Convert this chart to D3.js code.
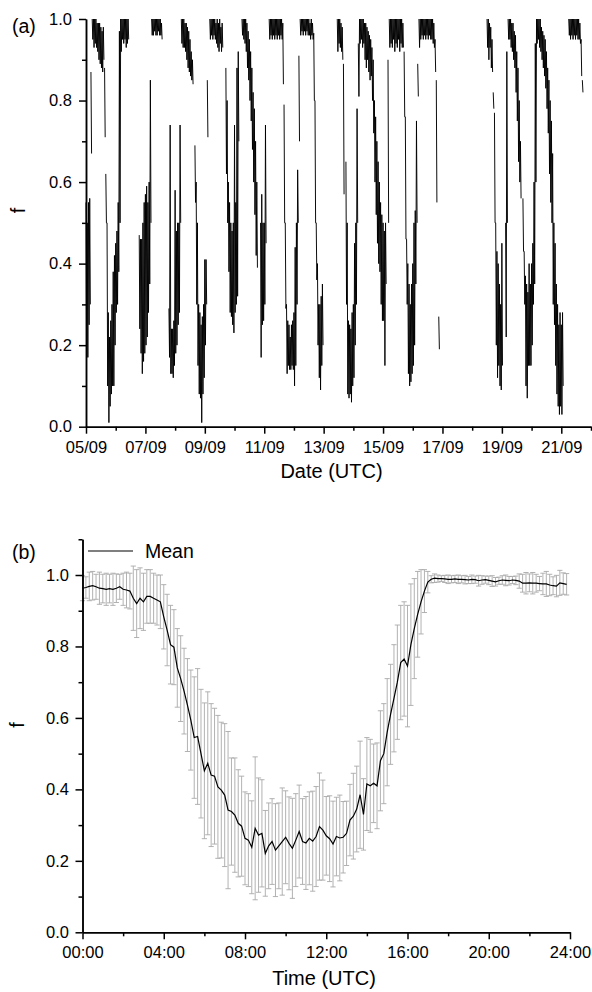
<!DOCTYPE html>
<html>
<head>
<meta charset="utf-8">
<script src="https://cdn.jsdelivr.net/npm/d3@7"></script>
<style>
  body { margin: 0; background: #fff; }
  svg { display: block; font-family: "Liberation Sans", Arial, sans-serif; }
</style>
</head>
<body>
<svg id="chart"></svg>
<script>
const _ = null;

// (a) hourly envelope of f, from 05/09 00:00 UTC, one row per day
const startDate = Date.UTC(2016, 8, 5);
const endDate = Date.UTC(2016, 8, 22);
const fLow = [
  0.20,0.17,0.25,0.30,0.67,0.95,0.93,0.94,0.93,0.92,0.90,0.89,0.88,0.87,0.90,0.71,0.50,0.10,0.01,0.05,0.08,0.10,0.10,0.20,
  0.28,0.30,0.38,0.50,0.92,0.95,0.94,0.95,0.93,0.94,0.95,_,_,_,_,_,_,_,_,0.24,0.18,0.13,0.16,0.18,
  0.20,0.22,0.28,0.35,0.50,0.96,0.96,0.97,0.96,0.96,0.97,0.96,0.96,0.95,_,_,_,_,_,0.17,0.13,0.13,0.12,0.15,
  0.18,0.20,0.25,0.28,0.50,0.94,0.93,0.93,0.92,0.90,0.88,0.87,0.86,0.85,0.84,_,0.55,0.30,0.15,0.08,0.07,0.01,0.08,0.12,
  0.20,0.30,0.71,_,0.95,0.96,0.95,0.96,0.95,0.94,0.93,0.92,0.94,0.92,0.93,_,_,0.62,0.50,0.38,0.28,0.27,0.25,0.23,
  0.28,0.30,0.32,0.70,_,_,0.96,0.95,0.94,0.92,0.88,0.85,0.80,0.75,0.68,0.60,0.52,0.42,0.39,_,_,0.17,0.25,0.26,
  0.30,0.45,_,_,0.95,0.96,0.95,0.96,0.95,0.96,0.95,0.96,0.95,0.96,0.95,0.84,0.50,0.29,0.13,0.15,0.14,0.14,0.15,0.14,
  0.10,0.15,0.30,0.50,0.70,0.96,0.97,0.96,0.97,0.96,0.97,0.96,0.96,0.95,0.96,0.95,0.80,0.50,0.36,0.20,0.12,0.09,0.15,0.20,
  _,_,_,_,_,_,_,_,_,_,_,0.92,0.94,0.93,0.92,0.90,0.57,_,0.30,0.08,0.07,0.08,0.06,0.10,
  0.12,0.20,0.30,0.50,0.81,0.94,0.95,0.93,0.94,0.90,0.88,0.90,0.87,0.85,0.86,0.80,0.72,0.60,0.52,0.45,0.40,0.38,0.30,0.26,
  0.26,0.15,0.35,_,0.50,0.93,0.94,0.93,0.95,0.92,0.94,0.93,0.95,0.92,0.94,0.93,0.93,0.76,0.46,0.30,0.13,0.10,0.11,0.13,
  0.15,0.20,0.35,0.50,0.81,0.93,0.95,0.96,0.95,0.96,0.95,0.96,0.95,0.96,0.95,0.95,0.94,0.93,0.87,0.55,_,0.19,_,_,
  _,_,_,_,_,_,_,_,_,_,_,_,_,_,_,_,_,_,_,_,_,_,_,_,
  _,_,_,_,_,_,_,_,_,_,_,_,0.93,0.90,0.93,0.88,0.87,0.78,0.50,0.20,0.12,0.15,0.10,0.09,
  0.15,_,_,0.22,0.50,0.95,0.95,0.93,0.92,0.90,0.88,0.82,0.75,0.65,0.60,0.56,_,0.43,0.30,0.10,0.07,0.15,0.15,0.15,
  0.20,0.30,0.35,0.60,0.94,0.95,0.93,0.92,0.90,0.88,0.86,0.83,0.78,0.72,0.62,0.55,0.50,0.30,0.25,0.15,0.08,0.05,0.03,0.05,
  0.03,0.10,_,_,_,_,0.96,0.95,0.96,0.95,0.96,0.95,0.96,0.95,0.95,0.94,0.86,0.82,_,_,_,_,_,_
];
const fHigh = [
  0.55,0.50,0.55,0.56,0.87,1.00,1.00,1.00,1.00,0.99,0.99,0.99,0.98,0.97,0.98,0.88,0.62,0.50,0.28,0.22,0.26,0.30,0.38,0.42,
  0.45,0.48,0.55,0.97,1.00,1.00,1.00,1.00,1.00,1.00,1.00,_,_,_,_,_,_,_,_,0.47,0.46,0.46,0.50,0.55,
  0.57,0.59,0.55,0.60,0.85,1.00,1.00,1.00,1.00,1.00,1.00,1.00,1.00,0.99,_,_,_,_,_,0.29,0.74,0.24,0.24,0.26,
  0.58,0.48,0.50,0.50,0.74,1.00,1.00,1.00,0.99,0.99,0.98,0.97,0.95,0.92,0.90,_,0.69,0.60,0.50,0.30,0.28,0.25,0.27,0.30,
  0.41,0.41,0.85,_,1.00,1.00,1.00,1.00,1.00,0.99,1.00,0.99,1.00,0.98,0.99,_,_,0.88,0.80,0.60,0.55,0.50,0.48,0.50,
  0.74,0.55,0.88,0.92,_,_,1.00,1.00,1.00,1.00,0.99,0.97,0.95,0.92,0.88,0.82,0.78,0.70,0.60,_,_,0.50,0.57,0.50,
  0.50,0.74,_,_,1.00,1.00,1.00,1.00,1.00,1.00,1.00,1.00,1.00,1.00,1.00,0.99,0.79,0.50,0.30,0.26,0.25,0.22,0.25,0.26,
  0.28,0.44,0.50,0.63,0.91,1.00,1.00,1.00,1.00,1.00,1.00,1.00,1.00,0.99,1.00,0.99,0.965,0.80,0.50,0.40,0.30,0.30,0.32,0.35,
  _,_,_,_,_,_,_,_,_,_,_,1.00,1.00,1.00,0.99,0.98,0.89,_,0.65,0.50,0.26,0.25,0.24,0.28,
  0.30,0.45,0.50,0.78,0.94,1.00,1.00,1.00,1.00,0.99,0.99,0.98,0.97,0.96,0.95,0.93,0.90,0.80,0.76,0.70,0.65,0.60,0.55,0.52,
  0.50,0.48,0.50,_,0.90,1.00,1.00,1.00,1.00,1.00,1.00,1.00,1.00,1.00,1.00,1.00,0.99,0.92,0.76,0.46,0.40,0.35,0.30,0.35,
  0.40,0.50,0.53,0.75,0.89,1.00,1.00,1.00,1.00,1.00,1.00,1.00,1.00,1.00,1.00,1.00,1.00,0.99,0.95,0.85,_,0.27,_,_,
  _,_,_,_,_,_,_,_,_,_,_,_,_,_,_,_,_,_,_,_,_,_,_,_,
  _,_,_,_,_,_,_,_,_,_,_,_,1.00,1.00,0.99,0.98,0.95,0.82,0.77,0.50,0.43,0.40,0.35,0.30,
  0.45,_,_,0.50,0.92,1.00,1.00,1.00,0.99,0.99,0.97,0.96,0.92,0.88,0.80,0.70,_,0.56,0.43,0.37,0.35,0.33,0.40,0.35,
  0.40,0.45,0.60,0.94,1.00,1.00,1.00,1.00,0.98,0.97,0.96,0.95,0.92,0.88,0.85,0.80,0.75,0.67,0.50,0.45,0.35,0.30,0.25,0.28,
  0.25,0.28,_,_,_,_,1.00,1.00,1.00,1.00,1.00,1.00,1.00,1.00,1.00,0.99,0.95,0.85,_,_,_,_,_,_
];

// (b) 10-minute mean of f and its standard deviation, 00:00 to 23:50 UTC
const meanF = [
  0.963,0.965,0.968,0.970,0.967,0.963,0.962,0.960,0.962,0.960,0.963,0.967,
  0.960,0.958,0.955,0.935,0.920,0.935,0.925,0.940,0.940,0.935,0.930,0.925,
  0.883,0.846,0.805,0.798,0.740,0.710,0.675,0.636,0.594,0.545,0.548,0.500,
  0.452,0.473,0.440,0.437,0.407,0.398,0.384,0.342,0.338,0.328,0.305,0.297,
  0.263,0.258,0.238,0.291,0.272,0.277,0.221,0.242,0.254,0.230,0.242,0.254,
  0.266,0.249,0.235,0.258,0.282,0.254,0.250,0.263,0.255,0.268,0.296,0.286,
  0.270,0.262,0.247,0.268,0.264,0.266,0.277,0.314,0.325,0.345,0.385,0.330,
  0.415,0.410,0.417,0.410,0.480,0.500,0.560,0.610,0.655,0.700,0.755,0.765,
  0.745,0.805,0.850,0.890,0.925,0.955,0.980,0.988,0.991,0.990,0.990,0.989,
  0.988,0.988,0.989,0.988,0.988,0.987,0.986,0.988,0.987,0.984,0.986,0.987,
  0.985,0.983,0.981,0.984,0.986,0.985,0.984,0.986,0.985,0.983,0.977,0.977,
  0.978,0.977,0.977,0.976,0.975,0.975,0.972,0.970,0.969,0.978,0.976,0.974
];
const sdF = [
  0.035,0.030,0.040,0.040,0.035,0.045,0.040,0.045,0.040,0.045,0.040,0.035,
  0.045,0.050,0.050,0.090,0.095,0.085,0.080,0.075,0.075,0.070,0.070,0.075,
  0.090,0.100,0.110,0.105,0.110,0.120,0.120,0.130,0.140,0.170,0.190,0.180,
  0.190,0.200,0.200,0.190,0.200,0.190,0.200,0.220,0.150,0.160,0.150,0.140,
  0.130,0.130,0.130,0.200,0.160,0.150,0.120,0.120,0.120,0.130,0.120,0.150,
  0.130,0.130,0.140,0.130,0.130,0.120,0.130,0.130,0.140,0.140,0.150,0.140,
  0.110,0.120,0.120,0.110,0.120,0.100,0.090,0.100,0.120,0.120,0.150,0.100,
  0.130,0.130,0.110,0.120,0.140,0.140,0.150,0.140,0.150,0.160,0.160,0.160,
  0.170,0.170,0.140,0.120,0.090,0.060,0.030,0.010,0.012,0.010,0.008,0.010,
  0.012,0.010,0.010,0.012,0.010,0.012,0.010,0.012,0.010,0.015,0.012,0.010,
  0.012,0.015,0.012,0.010,0.012,0.015,0.012,0.010,0.012,0.020,0.025,0.030,
  0.025,0.030,0.025,0.020,0.030,0.035,0.030,0.025,0.030,0.035,0.030,0.030
];

const yTicks = [0, 0.2, 0.4, 0.6, 0.8, 1.0];
const hourTicks = [0, 4, 8, 12, 16, 20, 24];

const W = 592, H = 992;
const FONT = '"Liberation Sans", Arial, sans-serif';
const svg = d3.select("#chart").attr("width", W).attr("height", H);
svg.append("rect").attr("width", W).attr("height", H).attr("fill", "#fff");

function styleAxis(g, fs) {
  g.attr("font-family", FONT).attr("font-size", fs);
  g.select(".domain").attr("stroke", "#000").attr("stroke-width", 1.5);
  g.selectAll(".tick line").attr("stroke", "#000").attr("stroke-width", 1.5);
  g.selectAll(".tick text").attr("fill", "#000");
}

// ---------- panel (a) ----------
const xA = d3.scaleUtc().domain([new Date(startDate), new Date(endDate)]).range([86, 591]);
const yA = d3.scaleLinear().domain([0, 1]).range([426.7, 19]);

// zigzag through each hour's high and low; break where consecutive hours don't touch
const ptsA = [];
fHigh.forEach((hi, i) => {
  const t0 = startDate + i * 3600e3;
  if (hi == null) { ptsA.push({ t: t0, v: null }); return; }
  const pLo = fLow[i - 1], pHi = fHigh[i - 1];
  if (pHi != null && (fLow[i] > pHi || hi < pLo)) ptsA.push({ t: t0, v: null });
  ptsA.push({ t: t0, v: hi }, { t: t0 + 1800e3, v: fLow[i] });
});

const lineA = d3.line()
  .defined(d => d.v != null)
  .x(d => xA(new Date(d.t)))
  .y(d => yA(d.v));

svg.append("path")
  .datum(ptsA)
  .attr("d", lineA)
  .attr("fill", "none")
  .attr("stroke", "#000")
  .attr("stroke-width", 0.95);

const dayMajor = d3.range(0, 17, 2).map(d => new Date(startDate + d * 864e5));
const dayMinor = d3.range(1, 18, 2).map(d => new Date(startDate + d * 864e5));

svg.append("g").attr("transform", "translate(0,426.7)")
  .call(d3.axisBottom(xA).tickValues(dayMinor).tickSize(4).tickFormat("").tickSizeOuter(0))
  .call(g => styleAxis(g, 16.5));
svg.append("g").attr("transform", "translate(0,426.7)")
  .call(d3.axisBottom(xA).tickValues(dayMajor).tickSize(7).tickPadding(7.6)
    .tickFormat(d3.utcFormat("%d/%m")).tickSizeOuter(0))
  .call(g => styleAxis(g, 16.5));

svg.append("g").attr("transform", "translate(86,0)")
  .call(d3.axisLeft(yA).tickValues([0.1, 0.3, 0.5, 0.7, 0.9]).tickSize(4).tickFormat("").tickSizeOuter(0))
  .call(g => styleAxis(g, 16.5));
svg.append("g").attr("transform", "translate(86,0)")
  .call(d3.axisLeft(yA).tickValues(yTicks).tickSize(7).tickPadding(7)
    .tickFormat(d3.format(".1f")).tickSizeOuter(0))
  .call(g => styleAxis(g, 16.5));

svg.append("text").attr("x", 12).attr("y", 33).attr("font-family", FONT)
  .attr("font-size", 19.5).text("(a)");
svg.append("text").attr("x", 331.5).attr("y", 478).attr("text-anchor", "middle")
  .attr("font-family", FONT).attr("font-size", 20).text("Date (UTC)");
svg.append("text").attr("transform", "translate(25,210.5) rotate(-90)")
  .attr("text-anchor", "middle").attr("font-family", FONT).attr("font-size", 20).text("f");

// ---------- panel (b) ----------
const xB = d3.scaleLinear().domain([0, 24]).range([82.5, 570]);
const yB = d3.scaleLinear().domain([0, 1.1]).range([932.3, 932.3 - 1.1 * 357.3]);
const hoursB = meanF.map((m, i) => i / 6);

const bars = svg.append("g").attr("stroke", "#a9a9a9").attr("stroke-width", 0.9);
meanF.forEach((m, i) => {
  const x = xB(hoursB[i]);
  const y1 = yB(m - sdF[i]), y2 = yB(m + sdF[i]);
  bars.append("line").attr("x1", x).attr("x2", x).attr("y1", y1).attr("y2", y2);
  bars.append("line").attr("x1", x - 2.6).attr("x2", x + 2.6).attr("y1", y1).attr("y2", y1);
  bars.append("line").attr("x1", x - 2.6).attr("x2", x + 2.6).attr("y1", y2).attr("y2", y2);
});

svg.append("path")
  .datum(meanF)
  .attr("d", d3.line().x((d, i) => xB(hoursB[i])).y(d => yB(d)))
  .attr("fill", "none")
  .attr("stroke", "#000")
  .attr("stroke-width", 1.2);

svg.append("g").attr("transform", "translate(0,932.3)")
  .call(d3.axisBottom(xB).tickValues([2, 6, 10, 14, 18, 22]).tickSize(4).tickFormat("").tickSizeOuter(0))
  .call(g => styleAxis(g, 16.5));
svg.append("g").attr("transform", "translate(0,932.3)")
  .call(d3.axisBottom(xB).tickValues(hourTicks).tickSize(7).tickPadding(7)
    .tickFormat(d => String(d).padStart(2, "0") + ":00").tickSizeOuter(0))
  .call(g => styleAxis(g, 16.5));

svg.append("g").attr("transform", "translate(82.5,0)")
  .call(d3.axisLeft(yB).tickValues([0.1, 0.3, 0.5, 0.7, 0.9, 1.1]).tickSize(4).tickFormat("").tickSizeOuter(0))
  .call(g => styleAxis(g, 16.5));
svg.append("g").attr("transform", "translate(82.5,0)")
  .call(d3.axisLeft(yB).tickValues(yTicks).tickSize(7).tickPadding(6.5)
    .tickFormat(d3.format(".1f")).tickSizeOuter(0))
  .call(g => styleAxis(g, 16.5));

svg.append("line").attr("x1", 88).attr("x2", 133).attr("y1", 551).attr("y2", 551)
  .attr("stroke", "#000").attr("stroke-width", 1.2);
svg.append("text").attr("x", 145).attr("y", 557.5).attr("font-family", FONT)
  .attr("font-size", 19.5).text("Mean");

svg.append("text").attr("x", 12).attr("y", 559).attr("font-family", FONT)
  .attr("font-size", 19.5).text("(b)");
svg.append("text").attr("x", 324).attr("y", 985).attr("text-anchor", "middle")
  .attr("font-family", FONT).attr("font-size", 20).text("Time (UTC)");
svg.append("text").attr("transform", "translate(24,725) rotate(-90)")
  .attr("text-anchor", "middle").attr("font-family", FONT).attr("font-size", 20).text("f");
</script>
</body>
</html>
